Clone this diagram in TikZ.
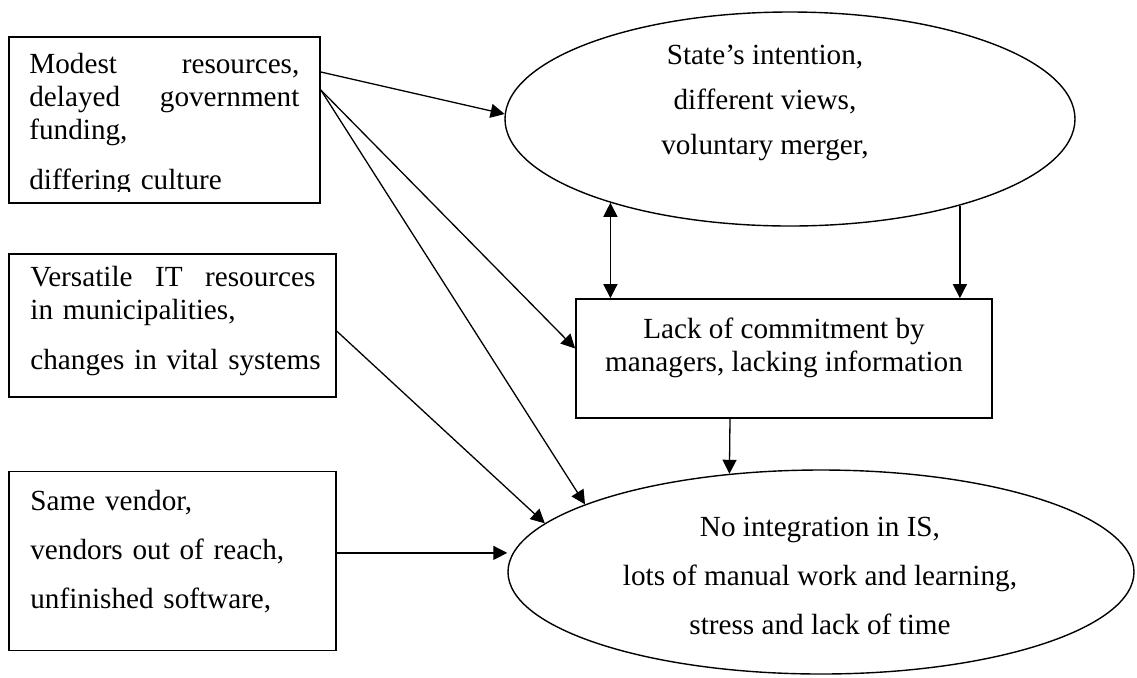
\documentclass[tikz,border=0pt]{standalone}
\usepackage{fontspec}
\setmainfont{Liberation Serif}
\usetikzlibrary{arrows.meta}
\usetikzlibrary{positioning}
\usetikzlibrary{shapes.geometric}
\tikzset{
	box/.style={rectangle, draw, line width=0.85pt, inner sep=0pt},
	oval/.style={ellipse, draw, line width=0.7pt, inner sep=0pt},
	txt/.style={inner sep=0pt, font=\fontsize{14.6}{16.5}\selectfont},
	arrow/.style={draw, line width=0.65pt, -{Triangle[length=7pt, width=7pt]}},
	twoway/.style={draw, line width=0.65pt, {Triangle[length=7pt, width=7pt]}-{Triangle[length=7pt, width=7pt]}}
}

\begin{document}
\begin{tikzpicture}[x=0.5pt, y=-0.5pt]
\useasboundingbox (0,0) rectangle (1137,677);

\node[box, minimum width=155.5pt, minimum height=83pt] (resources) at (164.5,120) {};
\node[box, minimum width=163.5pt, minimum height=71.5pt,
	below=24.5pt of resources.south west, anchor=north west] (itres) {};
\node[box, minimum width=163.5pt, minimum height=89.5pt,
	below=36.5pt of itres.south west, anchor=north west] (vendor) {};
\node[box, minimum width=208pt, minimum height=59.5pt] (commit) at (784,358.5) {};
\node[oval, minimum width=285pt, minimum height=107pt] (state) at (790,119) {};
\node[oval, minimum width=313pt, minimum height=102pt] (outcome) at (821,572) {};

% texts
\begin{scope}
\clip ([yshift=6pt]resources.south west) rectangle (resources.north east);
\node[txt, text width=135pt, align=left, anchor=north west] (resourcestxt) at (29,53)
	{Modest\hfill resources,\\delayed\hfill government\\funding,\\[8.5pt]differing culture};
\end{scope}

\node[txt, text width=142.5pt, align=left, anchor=north west] (itrestxt) at (30,266)
	{Versatile\hfill IT\hfill resources\\in municipalities,\\[8.5pt]\mbox{changes in vital systems}};

\node[txt, text width=142.5pt, align=left, anchor=north west,
	font=\fontsize{14.6}{24.5}\selectfont] (vendortxt) at (30,490)
	{Same vendor,\\vendors out of reach,\\unfinished software,};

\node[txt, align=center, anchor=north] (committxt) at (784,318)
	{Lack of commitment by\\managers, lacking information};

\node[txt, align=center, anchor=north,
	font=\fontsize{14.6}{22.5}\selectfont] (statetxt) at (765,45)
	{State’s intention,\\different views,\\voluntary merger,};

\node[txt, align=center, anchor=north,
	font=\fontsize{14.6}{24.5}\selectfont] (outcometxt) at (820,517)
	{No integration in IS,\\lots of manual work and learning,\\stress and lack of time};

% arrows
\draw [arrow] ([yshift=24pt]resources.east) -- (state.179);
\draw [arrow] ([yshift=15pt]resources.east) -- ([yshift=5pt]commit.west);
\draw [arrow] ([yshift=15pt]resources.east) -- (outcome.164);
\draw [arrow] ([yshift=-3pt]itres.east) -- (outcome.170);
\draw [arrow] ([yshift=4pt]vendor.east) -- ([yshift=4pt]outcome.west |- vendor.east);
\draw [twoway] (state.205) -- (state.205 |- commit.north);
\draw [arrow] (state.333) -- (state.333 |- commit.north);
\draw [arrow] ([xshift=-27pt]commit.south) -- (outcome.133);

\end{tikzpicture}
\end{document}
